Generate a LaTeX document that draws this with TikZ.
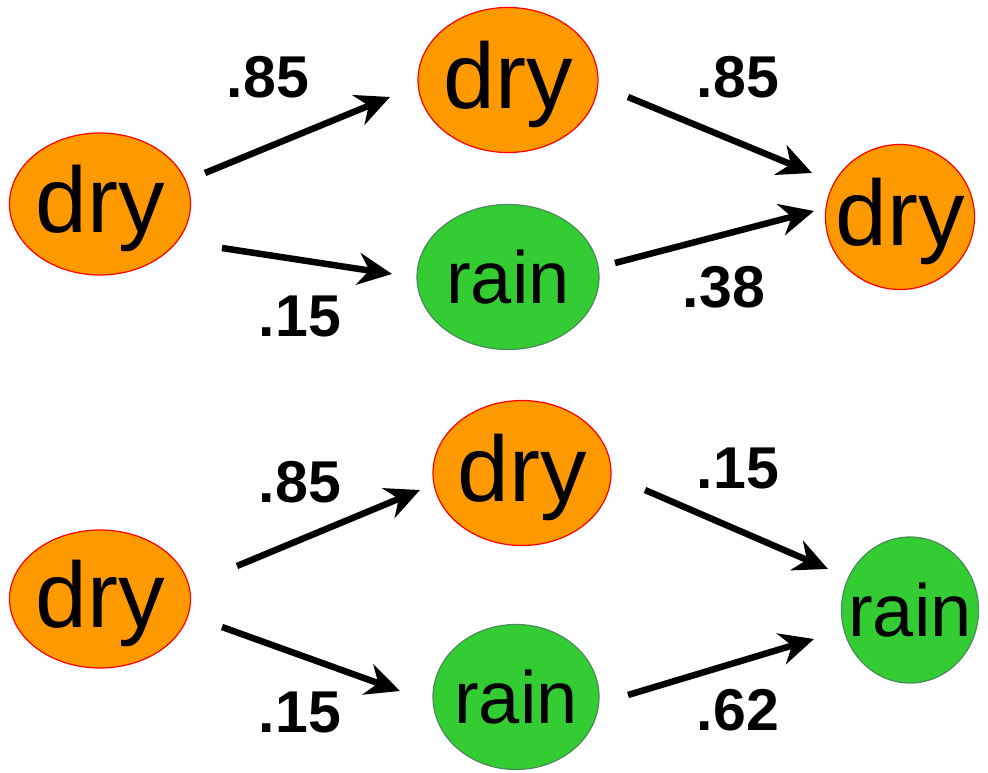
\documentclass[tikz,border=0pt]{standalone}
\usepackage{fontspec}
\setmainfont{Liberation Sans}
\usetikzlibrary{shapes.geometric,arrows.meta}
\definecolor{dryfill}{HTML}{FF9900}
\definecolor{dryline}{HTML}{FF0000}
\definecolor{rainfill}{HTML}{33CC33}
\definecolor{rainline}{HTML}{4A8A5A}
\newcommand{\ctext}[2]{\makebox[0pt]{\raisebox{-#1em}[0pt][0pt]{#2}}}
\begin{document}
\begin{tikzpicture}[x=1pt,y=-1pt,
  drynode/.style={ellipse,fill=dryfill,draw=dryline,line width=1.2pt,inner sep=0pt,
    font=\fontsize{93}{93}\selectfont},
  rainnode/.style={ellipse,fill=rainfill,draw=rainline,line width=1.2pt,inner sep=0pt,
    font=\fontsize{74}{74}\selectfont},
  prob/.style={font=\fontsize{59}{59}\selectfont\bfseries,inner sep=0pt},
  arr/.style={line width=6.5pt,-{Stealth[length=34pt,width=32pt,inset=11pt]}}]
\useasboundingbox (0,0) rectangle (988,773);
% top diagram
\node[drynode,minimum width=181pt,minimum height=142pt] (a1) at (100,204) {\ctext{0.31}{dry}};
\node[drynode,minimum width=180pt,minimum height=145pt] (b1) at (508,80) {\ctext{0.31}{dry}};
\node[rainnode,minimum width=182pt,minimum height=145pt] (c1) at (508,277) {\ctext{0.36}{rain}};
\node[drynode,minimum width=149pt,minimum height=145pt] (d1) at (900,217) {\ctext{0.31}{dry}};
% bottom diagram
\node[drynode,minimum width=181pt,minimum height=138pt] (a2) at (100,599) {\ctext{0.31}{dry}};
\node[drynode,minimum width=178pt,minimum height=145pt] (b2) at (522,473) {\ctext{0.31}{dry}};
\node[rainnode,minimum width=166pt,minimum height=145pt] (c2) at (516,697) {\ctext{0.36}{rain}};
\node[rainnode,minimum width=137pt,minimum height=146pt] (d2) at (910,610) {\ctext{0.36}{rain}};
% arrow endpoints
\coordinate (s1) at (205,173); \coordinate (e1) at (390,97);
\coordinate (s2) at (222,248); \coordinate (e2) at (392,274);
\coordinate (s3) at (628,97);  \coordinate (e3) at (812,173);
\coordinate (s4) at (615,263); \coordinate (e4) at (814,211);
\coordinate (s5) at (237,566); \coordinate (e5) at (420,490);
\coordinate (s6) at (222,627); \coordinate (e6) at (400,691);
\coordinate (s7) at (645,490); \coordinate (e7) at (828,569);
\coordinate (s8) at (628,695); \coordinate (e8) at (814,639);
\foreach \i in {1,...,8} \draw[arr] (s\i) -- (e\i);
% labels
\node[prob] (l1) at (268,77) {.85};
\node[prob] (l2) at (300,316) {.15};
\node[prob] (l3) at (738,77) {.85};
\node[prob] (l4) at (724,287) {.38};
\node[prob] (l5) at (300,482) {.85};
\node[prob] (l6) at (300,712) {.15};
\node[prob] (l7) at (738,468) {.15};
\node[prob] (l8) at (738,710) {.62};
\end{tikzpicture}
\end{document}
